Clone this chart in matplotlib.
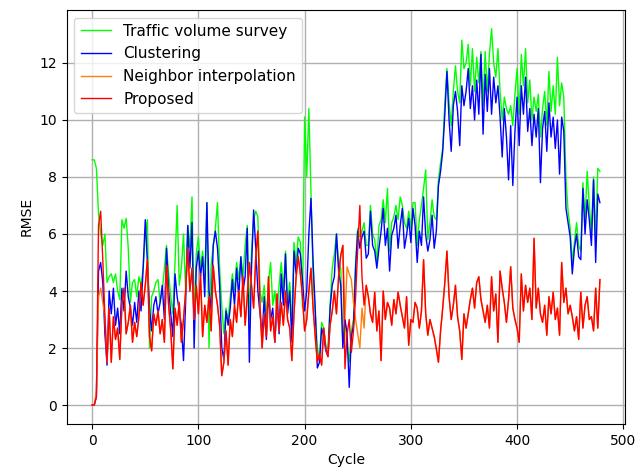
import matplotlib
import numpy as np

matplotlib.use("Agg")
import matplotlib.pyplot as plt


# values read every 2 cycles (0, 2, ..., 478)
traffic_survey = [
    8.6, 8.6, 8.3, 6.7, 6.0, 5.6, 6.0, 4.3, 4.5, 4.6,
    4.3, 4.6, 4.0, 3.7, 6.5, 6.2, 6.55, 5.5, 3.6, 4.3,
    4.4, 3.8, 4.5, 4.2, 4.8, 6.0, 6.5, 2.0, 3.8, 4.0,
    4.3, 4.4, 3.6, 4.0, 4.8, 5.6, 4.6, 3.8, 3.2, 5.0,
    7.0, 4.2, 4.8, 6.0, 4.0, 6.3, 5.5, 7.3, 3.0, 5.3,
    5.9, 4.8, 5.4, 4.5, 7.1, 2.0, 4.9, 5.6, 6.2, 7.1,
    4.8, 3.5, 2.5, 3.4, 3.0, 3.8, 4.6, 4.0, 5.0, 4.4,
    5.2, 4.5, 5.6, 6.3, 3.0, 5.4, 6.5, 6.8, 6.6, 4.0,
    3.6, 4.2, 3.0, 4.3, 5.0, 3.5, 4.0, 3.2, 4.2, 5.0,
    4.0, 5.4, 3.6, 4.3, 2.8, 5.7, 5.0, 5.9, 5.7, 3.4,
    10.1, 8.0, 10.4, 7.4, 4.5, 3.2, 2.0, 1.6, 2.9, 2.7,
    2.0, 2.0, 3.5, 4.8, 5.3, 6.0, 5.0, 4.8, 2.2, 3.0,
    2.0, 1.5, 2.6, 3.0, 5.0, 6.2, 5.9, 6.1, 6.4, 5.6,
    5.6, 7.0, 6.0, 5.8, 5.0, 6.3, 6.5, 7.2, 6.4, 7.6,
    5.4, 6.4, 6.6, 7.0, 6.5, 7.3, 7.0, 6.4, 6.2, 6.8,
    6.2, 7.1, 7.1, 5.6, 6.5, 7.0, 7.6, 8.25, 5.8, 6.4,
    7.2, 6.6, 6.5, 7.9, 8.5, 9.0, 10.6, 11.8, 10.6, 9.8,
    11.0, 11.9, 11.0, 10.6, 12.8, 11.8, 12.0, 12.65, 11.2, 12.5,
    11.0, 12.2, 11.3, 12.4, 10.5, 12.4, 11.0, 12.3, 13.2, 12.0,
    11.5, 12.5, 11.0, 10.0, 10.8, 10.4, 10.2, 10.5, 9.8, 10.9,
    11.8, 10.2, 12.3, 11.2, 12.5, 10.6, 11.4, 10.0, 10.8, 10.3,
    10.9, 9.4, 10.4, 11.0, 9.8, 11.7, 10.3, 11.2, 10.2, 12.2,
    10.5, 11.3, 10.8, 8.0, 6.8, 6.2, 5.0, 5.7, 6.4, 5.6,
    5.4, 7.8, 6.5, 8.2, 7.0, 6.1, 8.0, 5.9, 8.3, 8.2,
]

clustering = [
    0.0, 0.0, 0.3, 4.7, 5.0, 4.3, 2.5, 1.4, 4.0, 3.2,
    4.1, 2.8, 3.4, 2.5, 4.1, 3.3, 4.7, 3.8, 3.4, 2.8,
    3.6, 2.9, 4.0, 3.3, 4.8, 6.5, 5.0, 3.4, 2.6, 3.5,
    3.8, 3.2, 3.6, 4.2, 3.0, 5.5, 4.0, 3.2, 2.4, 4.6,
    3.8, 3.3, 2.8, 1.56, 3.6, 6.3, 4.8, 6.4, 2.0, 4.8,
    5.4, 4.5, 5.2, 3.8, 7.1, 4.0, 3.3, 5.6, 6.1, 5.5,
    4.2, 2.0, 1.6, 3.3, 2.8, 3.4, 4.4, 3.5, 4.8, 3.8,
    5.2, 4.0, 4.5, 6.2, 1.5, 4.8, 6.84, 5.5, 4.0, 3.2,
    2.4, 3.8, 2.3, 3.9, 3.0, 3.4, 2.2, 3.6, 2.5, 4.6,
    3.5, 5.3, 3.2, 4.0, 2.2, 5.4, 4.6, 5.5, 5.3, 4.4,
    3.3, 4.0, 6.0, 7.25, 5.0, 3.4, 1.3, 1.5, 2.7, 2.4,
    1.9, 1.7, 3.4, 4.2, 4.5, 6.0, 4.7, 4.2, 2.0, 3.0,
    2.5, 0.62, 2.4, 2.8, 4.8, 6.1, 5.5, 5.9, 6.1, 5.15,
    5.3, 6.8, 5.6, 5.4, 4.8, 5.5, 6.1, 6.9, 5.6, 6.2,
    4.7, 5.96, 6.2, 6.66, 5.5, 6.3, 6.9, 5.5, 5.96, 6.55,
    5.7, 6.9, 6.3, 5.0, 6.1, 5.6, 7.3, 5.96, 5.4, 5.8,
    6.66, 5.5, 6.1, 7.7, 8.2, 8.9, 10.2, 11.7, 10.0, 8.9,
    10.5, 11.0, 10.3, 9.1, 11.2, 10.5, 11.0, 11.8, 10.4, 11.2,
    10.0, 11.4, 10.2, 12.3, 9.5, 11.6, 10.3, 11.8, 10.2, 11.5,
    10.6, 11.2, 10.1, 8.7, 10.4, 9.4, 7.9, 9.8, 7.7, 9.6,
    10.8, 9.1, 11.2, 10.2, 11.5, 9.6, 10.4, 9.1, 10.2, 9.4,
    10.4, 7.8, 9.7, 10.3, 8.9, 10.6, 9.4, 10.1, 9.0, 10.0,
    8.1, 10.1, 9.6, 6.9, 6.4, 5.9, 4.6, 5.5, 6.0, 5.2,
    5.1, 7.6, 6.0, 7.2, 6.5, 5.6, 7.9, 5.0, 7.4, 7.1,
]

neighbor_interp = [
    0.0, 0.0, 0.5, 3.8, 4.1, 3.6, 3.1, 1.5, 3.4, 1.5,
    3.1, 2.3, 2.7, 1.6, 3.5, 4.1, 2.5, 2.9, 3.5, 2.2,
    2.9, 2.4, 3.1, 4.3, 3.5, 4.2, 5.1, 2.4, 1.9, 3.2,
    2.8, 3.3, 2.5, 3.0, 2.2, 4.9, 3.5, 2.6, 1.27, 3.4,
    2.8, 3.6, 2.2, 3.0, 4.0, 5.5, 4.0, 4.8, 3.0, 4.2,
    3.2, 4.6, 2.4, 3.5, 2.9, 3.8, 2.6, 4.9, 4.0, 3.5,
    2.8, 1.03, 1.5, 2.6, 1.4, 3.0, 2.4, 3.5, 2.9, 4.0,
    3.1, 4.5, 2.8, 3.8, 5.0, 4.2, 3.4, 5.2, 6.1, 3.5,
    2.0, 3.2, 2.4, 4.5, 2.6, 3.1, 2.2, 3.9, 2.6, 3.6,
    2.8, 4.0, 3.0, 2.7, 1.56, 3.2, 4.5, 5.2, 4.6, 3.8,
    2.6, 3.0, 4.0, 4.8, 3.4, 2.4, 1.5, 1.8, 1.4, 2.7,
    2.0, 1.7, 2.8, 3.3, 4.0, 3.2, 4.5, 5.25, 5.6, 3.0,
    4.85, 4.6, 4.4, 3.6, 3.0, 2.5, 2.0, 3.4, 2.7, 4.2,
    3.8, 3.2, 2.9, 3.96, 2.6, 3.3, 1.56, 4.0, 3.0, 3.6,
    3.4, 2.8, 3.7, 3.2, 3.96, 3.5, 3.1, 2.7, 3.8, 2.1,
    3.0, 2.9, 3.6, 3.4, 2.7, 3.3, 5.1, 3.2, 2.45, 3.0,
    2.7, 2.4, 1.97, 1.5, 2.6, 3.4, 4.3, 5.4, 3.8, 3.0,
    3.5, 4.2, 3.1, 2.6, 1.6, 3.2, 2.7, 3.2, 3.7, 4.1,
    3.4, 4.3, 4.5, 3.7, 3.3, 2.9, 3.5, 2.7, 4.5, 3.3,
    3.9, 2.2, 4.7, 4.1, 3.6, 2.9, 3.7, 4.85, 3.4, 3.0,
    2.7, 2.2, 4.6, 3.3, 4.2, 3.6, 4.1, 3.0, 5.85, 3.4,
    4.1, 3.2, 2.9, 3.5, 2.45, 3.8, 3.2, 3.96, 3.0, 3.4,
    2.45, 5.0, 3.6, 4.1, 3.2, 3.5, 3.1, 2.6, 3.1, 2.3,
    3.96, 2.7, 3.5, 3.8, 3.0, 3.1, 2.6, 4.1, 2.7, 4.4,
]

proposed = [
    0.0, 0.0, 0.3, 6.3, 6.8, 5.1, 3.1, 1.5, 3.4, 1.5,
    3.1, 2.3, 2.7, 1.6, 3.5, 4.1, 2.5, 2.9, 3.5, 2.2,
    2.9, 2.4, 3.1, 4.3, 3.5, 4.2, 5.1, 2.4, 1.9, 3.2,
    2.8, 3.3, 2.5, 3.0, 2.2, 4.9, 3.5, 2.6, 1.27, 3.4,
    2.8, 3.6, 2.2, 3.0, 4.0, 5.5, 4.0, 4.8, 3.0, 4.2,
    3.2, 4.6, 2.4, 3.5, 2.9, 3.8, 2.6, 4.9, 4.0, 3.5,
    2.8, 1.03, 1.5, 2.6, 1.4, 3.0, 2.4, 3.5, 2.9, 4.0,
    3.1, 4.5, 2.8, 3.8, 5.0, 4.2, 3.4, 5.2, 6.1, 3.5,
    2.0, 3.2, 2.4, 4.5, 2.6, 3.1, 2.2, 3.9, 2.6, 3.6,
    2.8, 4.0, 3.0, 2.7, 1.56, 3.2, 4.5, 5.2, 4.6, 3.8,
    2.6, 3.0, 4.0, 4.8, 3.4, 2.4, 1.5, 1.8, 1.4, 2.7,
    2.0, 1.7, 2.8, 3.3, 4.0, 3.2, 4.5, 5.25, 5.6, 1.27,
    2.5, 3.0, 1.85, 2.6, 3.8, 5.5, 7.0, 4.5, 3.5, 4.2,
    3.8, 3.2, 2.9, 3.96, 2.6, 3.3, 1.56, 4.0, 3.0, 3.6,
    3.4, 2.8, 3.7, 3.2, 3.96, 3.5, 3.1, 2.7, 3.8, 2.1,
    3.0, 2.9, 3.6, 3.4, 2.7, 3.3, 5.1, 3.2, 2.45, 3.0,
    2.7, 2.4, 1.97, 1.5, 2.6, 3.4, 4.3, 5.4, 3.8, 3.0,
    3.5, 4.2, 3.1, 2.6, 1.6, 3.2, 2.7, 3.2, 3.7, 4.1,
    3.4, 4.3, 4.5, 3.7, 3.3, 2.9, 3.5, 2.7, 4.5, 3.3,
    3.9, 2.2, 4.7, 4.1, 3.6, 2.9, 3.7, 4.85, 3.4, 3.0,
    2.7, 2.2, 4.6, 3.3, 4.2, 3.6, 4.1, 3.0, 5.85, 3.4,
    4.1, 3.2, 2.9, 3.5, 2.45, 3.8, 3.2, 3.96, 3.0, 3.4,
    2.45, 5.0, 3.6, 4.1, 3.2, 3.5, 3.1, 2.6, 3.1, 2.3,
    3.96, 2.7, 3.5, 3.8, 3.0, 3.1, 2.6, 4.1, 2.7, 4.4,
]

series = [
    ("Traffic volume survey", traffic_survey, "#00ff00"),
    ("Clustering", clustering, "#0000ff"),
    ("Neighbor interpolation", neighbor_interp, "#ff7f0e"),
    ("Proposed", proposed, "#ff0000"),
]

cycles = np.arange(len(traffic_survey)) * 2

fig = plt.figure(figsize=(6.42, 4.72), dpi=100)
ax = fig.add_axes([0.104, 0.102, 0.870, 0.877])
for label, values, color in series:
    ax.plot(cycles, values, color=color, linewidth=1.0, label=label)

ax.grid(True, color="#b0b0b0", linewidth=1.0)
ax.set_xlabel("Cycle")
ax.set_ylabel("RMSE")
ax.legend(loc="upper left", fontsize=11)

fig.savefig("out.png", dpi=100)
